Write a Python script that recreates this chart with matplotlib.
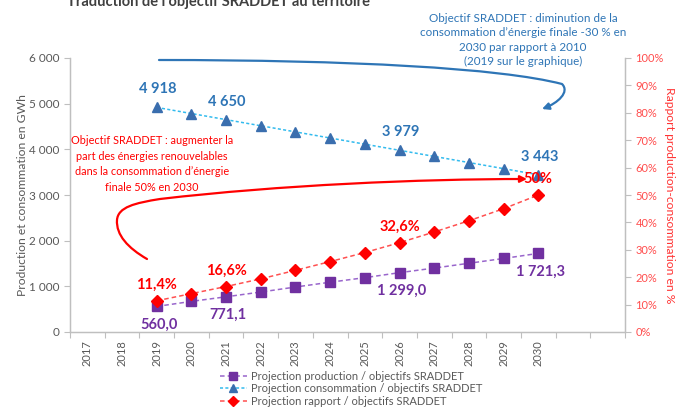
import matplotlib
matplotlib.use("Agg")
import matplotlib.pyplot as plt
from matplotlib.path import Path
from matplotlib.patches import FancyArrowPatch
from matplotlib.ticker import FixedLocator, FuncFormatter

plt.rcParams['font.family'] = ['Lato', 'DejaVu Sans']

# ---- data ----
axis_years = ["2017", "2018", "2019", "2020", "2021", "2022", "2023", "2024",
              "2025", "2026", "2027", "2028", "2029", "2030", "", ""]
years = ["2019", "2020", "2021", "2022", "2023", "2024", "2025", "2026",
         "2027", "2028", "2029", "2030"]
production = [560.0, 670, 771.1, 875, 985, 1090, 1190, 1299.0, 1400, 1505, 1610, 1721.3]
consommation = [4918, 4784, 4650, 4516, 4382, 4248, 4113, 3979, 3845, 3711, 3577, 3443]
rapport = [11.4, 14.0, 16.6, 19.4, 22.5, 25.7, 29.0, 32.6, 36.5, 40.6, 45.0, 50.0]

lab_prod = {"2019": "560,0", "2021": "771,1", "2026": "1 299,0", "2030": "1 721,3"}
lab_cons = {"2019": "4 918", "2021": "4 650", "2026": "3 979", "2030": "3 443"}
lab_rap = {"2019": "11,4%", "2021": "16,6%", "2026": "32,6%", "2030": "50%"}

leg_prod = "Projection production / objectifs SRADDET"
leg_cons = "Projection consommation / objectifs SRADDET"
leg_rap = "Projection rapport / objectifs SRADDET"

title = "Traduction de l\u2019objectif SRADDET au territoire"
note_blue = ("Objectif SRADDET : diminution de la\n"
             "consommation d\u2019\u00e9nergie finale -30 % en\n"
             "2030 par rapport \u00e0 2010\n"
             "(2019 sur le graphique)")
note_red = ("Objectif SRADDET : augmenter la\n"
            "part des \u00e9nergies renouvelables\n"
            "dans la consommation d\u2019\u00e9nergie\n"
            "finale 50% en 2030")

# ---- colours ----
C_PROD = "#7030A0"
C_PROD_L = "#9966CC"
C_CONS = "#3A6EAE"
C_CONS_L = "#33BBEE"
C_RAP = "#FF0000"
C_RAP_L = "#FF5050"
C_BLUE_TXT = "#2E75B6"
C_GREY = "#595959"
C_AX = "#BFBFBF"

W, H = 677, 407
fig = plt.figure(figsize=(W / 100, H / 100), dpi=100)
ax = fig.add_axes([70 / W, 1 - 332 / H, (625 - 70) / W, (332 - 58) / H])
ax2 = ax.twinx()


def P(x, y):
    return (x / W, 1 - y / H)


pos = {y: i for i, y in enumerate(axis_years) if y}
xs = [pos[y] for y in years]

ln_p, = ax.plot(xs, production, ls=(0, (3, 2)), color=C_PROD_L, lw=1.1,
                marker='s', ms=7, mfc=C_PROD, mec=C_PROD, zorder=3)
ln_c, = ax.plot(xs, consommation, ls=(0, (2, 1.5)), color=C_CONS_L, lw=1.1,
                marker='^', ms=6.5, mfc=C_CONS, mec=C_CONS, zorder=3)
ln_r, = ax2.plot(xs, rapport, ls=(0, (3, 2)), color=C_RAP_L, lw=1.1,
                 marker='D', ms=6, mfc=C_RAP, mec=C_RAP, zorder=3)

ax.set_xlim(-0.5, len(axis_years) - 0.5)
ax.set_ylim(0, 6000)
ax2.set_ylim(0, 100)

# x axis: ticks at boundaries, labels at centres
ax.xaxis.set_major_locator(FixedLocator([i - 0.5 for i in range(len(axis_years) + 1)]))
ax.xaxis.set_major_formatter(FuncFormatter(lambda v, p: ""))
ax.xaxis.set_minor_locator(FixedLocator(list(range(len(axis_years)))))
ax.set_xticklabels(axis_years, minor=True, rotation=90, fontsize=8, color=C_GREY)
ax.tick_params(axis='x', which='minor', length=0, pad=6)
ax.tick_params(axis='x', which='major', length=4, color=C_AX)

ax.set_yticks(range(0, 6001, 1000))
ax.yaxis.set_major_formatter(FuncFormatter(lambda v, p: f"{int(v):,}".replace(",", " ")))
ax.tick_params(axis='y', length=4, color=C_AX, labelsize=8.5, labelcolor=C_GREY)
ax2.set_yticks(range(0, 101, 10))
ax2.yaxis.set_major_formatter(FuncFormatter(lambda v, p: f"{int(v)}%"))
ax2.tick_params(axis='y', length=4, color=C_AX, labelsize=8, labelcolor="#FF4D4D")

for a in (ax, ax2):
    a.spines['top'].set_visible(False)
    for s in ('left', 'right', 'bottom'):
        a.spines[s].set_color(C_AX)
        a.spines[s].set_linewidth(0.9)

ax.set_ylabel("Production et consommation en GWh", fontsize=8.7, color=C_GREY, labelpad=1)
ax2.set_ylabel("Rapport production-consommation en %", fontsize=8.7, color="#FF3333",
               rotation=270, labelpad=8)

# data labels
def label(axis, data, labels, color, dx, dy, va):
    for y, t in labels.items():
        i = years.index(y)
        axis.annotate(t, (pos[y], data[i]), xytext=(dx, dy), textcoords='offset pixels',
                      ha='center', va=va, fontsize=10.5, fontweight='bold', color=color,
                      zorder=5)

label(ax, consommation, lab_cons, C_BLUE_TXT, 1, 11, 'bottom')
label(ax2, rapport, lab_rap, C_RAP, 0, 9, 'bottom')
label(ax, production, lab_prod, C_PROD, 2, -11, 'top')

# texts
fig.text(*P(67, 6), title, fontsize=10.5, fontweight='bold', color="#404040",
         ha='left', va='baseline')
fig.text(*P(523, 40), note_blue, fontsize=8.4, color=C_BLUE_TXT, ha='center', va='center',
         linespacing=1.35)
fig.text(*P(152, 164), note_red, fontsize=7.8, color=C_RAP, ha='center', va='center',
         linespacing=1.5)

# curved arrows
blue_path = Path([P(159, 60), P(350, 60), P(500, 68), P(562, 84),
                  P(570, 92), P(558, 103), P(542, 109)],
                 [Path.MOVETO, Path.CURVE4, Path.CURVE4, Path.CURVE4,
                  Path.CURVE4, Path.CURVE4, Path.CURVE4])
red_path = Path([P(147, 259), P(128, 248), P(116, 235), P(117, 220),
                 P(118, 207), P(135, 203), P(160, 199),
                 P(280, 185), P(420, 179), P(527, 179)],
                [Path.MOVETO, Path.CURVE4, Path.CURVE4, Path.CURVE4,
                 Path.CURVE4, Path.CURVE4, Path.CURVE4,
                 Path.CURVE4, Path.CURVE4, Path.CURVE4])
for pth, col in ((blue_path, C_BLUE_TXT), (red_path, C_RAP)):
    arr = FancyArrowPatch(path=pth, arrowstyle='-|>', mutation_scale=10, lw=1.6,
                          color=col, transform=fig.transFigure, zorder=6)
    fig.add_artist(arr)

# legend
fig.legend([ln_p, ln_c, ln_r], [leg_prod, leg_cons, leg_rap], loc='upper left',
           bbox_to_anchor=P(214, 365), frameon=False, fontsize=8, labelcolor=C_GREY,
           handlelength=2.5, handletextpad=0.3, labelspacing=0.15, borderpad=0,
           markerscale=0.8)

fig.savefig("out.png", dpi=100)
